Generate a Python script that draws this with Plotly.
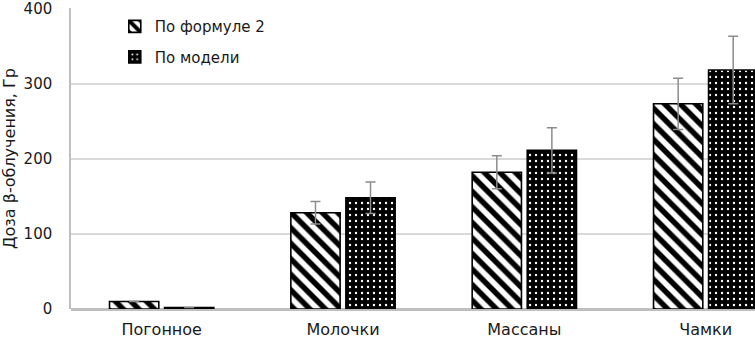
import plotly.graph_objects as go

categories = ["Погонное", "Молочки", "Массаны", "Чамки"]
formula_vals = [10, 128, 182, 273]
formula_err = [0, 15, 22, 34]
model_vals = [2, 148, 211, 318]
model_err = [0, 21, 30, 45]
y_ticks = [0, 100, 200, 300, 400]

font = "DejaVu Sans, Liberation Sans, sans-serif"

fig = go.Figure()
fig.add_trace(go.Bar(
    x=categories, y=formula_vals, name="По формуле 2", legendgroup="a",
    error_y=dict(type="data", array=formula_err, visible=True, color="#8c8c8c", thickness=1.5, width=5),
    marker=dict(color="white", line=dict(color="black", width=1.6),
                pattern=dict(shape="\\", fgcolor="black", bgcolor="white", fgopacity=1,
                             fillmode="replace", size=11, solidity=0.5)),
))
fig.add_trace(go.Bar(
    x=categories, y=model_vals, name="По модели", legendgroup="b",
    error_y=dict(type="data", array=model_err, visible=True, color="#8c8c8c", thickness=1.5, width=5),
    marker=dict(color="black", line=dict(color="black", width=1.6),
                pattern=dict(shape=".", fgcolor="white", bgcolor="black", fgopacity=1,
                             fillmode="replace", size=6, solidity=0.12)),
))

fig.update_layout(
    width=755, height=339,
    margin=dict(l=68, r=0, t=7, b=29),
    paper_bgcolor="white", plot_bgcolor="white",
    barmode="group", bargap=0.393, bargroupgap=0.105,
    font=dict(family=font, size=15, color="#1a1a1a"),
    showlegend=True,
    legend=dict(x=0.064, y=0.993, xanchor="left", yanchor="top", tracegroupgap=8,
                bgcolor="rgba(0,0,0,0)", font=dict(size=15, color="#1a1a1a")),
    xaxis=dict(range=[-0.5, 3.272], showgrid=False, showline=False, ticks="",
               tickfont=dict(size=16), ticklabelstandoff=9),
    yaxis=dict(range=[0, 400.5], tickvals=y_ticks, showgrid=True, gridcolor="#d9d9d9",
               gridwidth=1.5, showline=True, linecolor="#bfbfbf", linewidth=1.5,
               zeroline=True, zerolinecolor="#bfbfbf", zerolinewidth=2.5,
               ticks="", tickfont=dict(size=15), ticklabelstandoff=14,
               ticklabeloverflow="allow",
               title=dict(text="Доза β-облучения, Гр", font=dict(size=16), standoff=12)),
)

fig.write_html("out.html", config={"displayModeBar": False},
               post_script="document.body.style.margin='0';document.body.style.overflow='hidden';")
